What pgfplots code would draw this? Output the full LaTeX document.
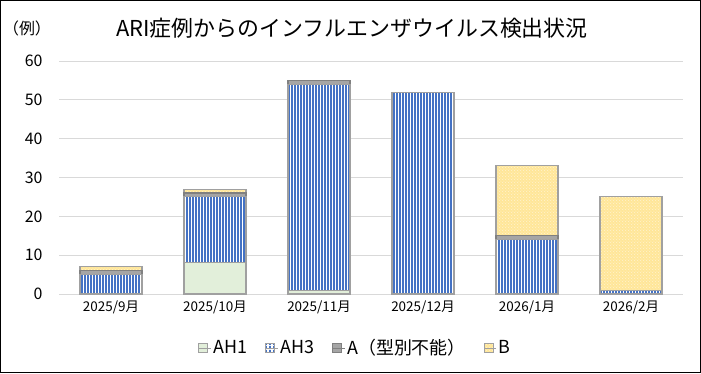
\documentclass[border=0pt]{standalone}
\usepackage{fontspec}
\setmainfont{Noto Sans CJK JP}
\usepackage{pgfplots}
\pgfplotsset{compat=1.18}
\usetikzlibrary{patterns.meta}

\definecolor{ah1}{HTML}{E2EFDA}
\definecolor{ah3}{HTML}{4472C4}
\definecolor{agray}{HTML}{A5A5A5}
\definecolor{byel}{HTML}{FFE699}
\definecolor{edge}{HTML}{A0A0A0}
\definecolor{gridc}{HTML}{D9D9D9}

\tikzdeclarepattern{
  name=vstripes,
  type=uncolored,
  bottom left={(0bp,0bp)},
  top right={(3.4bp,3.4bp)},
  tile size={(3.4bp,3.4bp)},
  code={\fill (0bp,0bp) rectangle (2.1bp,3.4bp);}
}
\tikzdeclarepattern{
  name=wdots,
  type=uncolored,
  bottom left={(0bp,0bp)},
  top right={(3.2bp,3.2bp)},
  tile size={(3.2bp,3.2bp)},
  code={\fill (0.8bp,0.8bp) circle (0.45bp); \fill (2.4bp,2.4bp) circle (0.45bp);}
}

\pgfplotstableread{
x AH1 AH3 A B
0 0 5 1 1
1 8 17 1 1
2 1 53 1 0
3 0 52 0 0
4 0 14 1 18
5 0 1 0 24
}\datatable

\begin{document}
\begin{tikzpicture}[x=1bp,y=1bp]
\useasboundingbox (0,0) rectangle (701,373);
\draw[black, line width=1bp] (0.5,0.5) rectangle (700.5,372.5);
\node[font=\fontsize{22}{26}\selectfont] at (352,345) {ARI症例からのインフルエンザウイルス検出状況};
\node[font=\fontsize{16}{19}\selectfont] at (27,345) {（例）};
\begin{axis}[
  at={(59bp,79bp)}, anchor=south west,
  scale only axis, width=624bp, height=233bp,
  ybar stacked, bar width=62bp,
  xmin=-0.5, xmax=5.5, ymin=0, ymax=60,
  ytick={0,10,...,60},
  xtick=data,
  xticklabels={2025/9月,2025/10月,2025/11月,2025/12月,2026/1月,2026/2月},
  /pgf/number format/assume math mode=true,
  ymajorgrids, grid style={draw=gridc, line width=0.8bp},
  axis lines*=left,
  y axis line style={draw=none},
  x axis line style={draw=gridc, line width=0.8bp, -},
  major tick length=0pt,
  yticklabel style={font=\fontsize{16}{18}\selectfont, xshift=-13bp},
  xticklabel style={font=\fontsize{13.5}{16}\selectfont, yshift=-3bp},
  every axis plot/.append style={draw=edge, line width=1.1bp},
  legend columns=4,
  legend style={draw=none, fill=none, at={(0.475,-0.232)}, anchor=center,
    font=\fontsize{18}{21}\selectfont,
    /tikz/every even column/.append style={column sep=16bp}},
  legend image code/.code={\draw[#1, line width=0.6bp] (0bp,-4.5bp) rectangle (9bp,4.5bp); \path (0bp,0bp) -- (12bp,0bp);},
]
\addplot[fill=ah1] table[x=x,y=AH1]{\datatable};
\addplot[fill=white, postaction={pattern={vstripes}, pattern color=ah3}] table[x=x,y=AH3]{\datatable};
\addplot[fill=agray, draw=gray] table[x=x,y=A]{\datatable};
\addplot[fill=byel, postaction={pattern={wdots}, pattern color=white}] table[x=x,y=B]{\datatable};
\legend{AH1,AH3,A（型別不能）\hspace{36bp},B}
\end{axis}
\end{tikzpicture}
\end{document}
